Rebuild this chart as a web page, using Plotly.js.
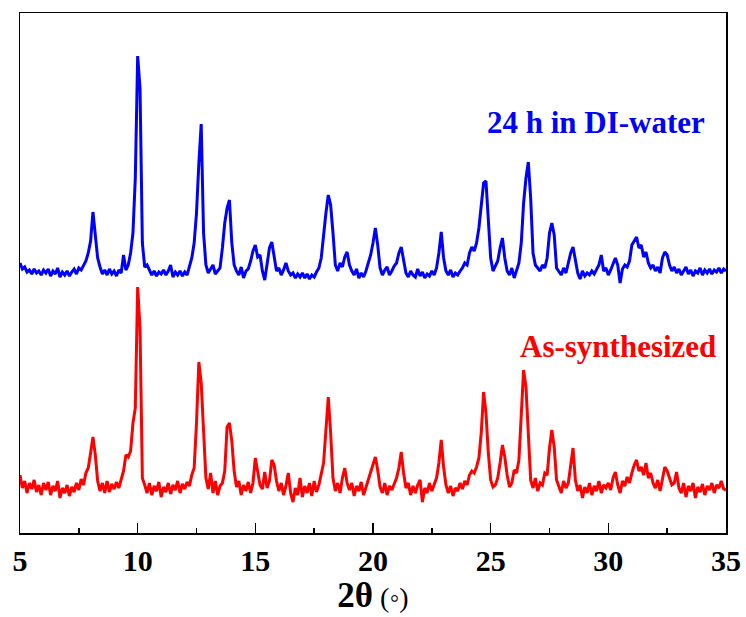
<!DOCTYPE html>
<html>
<head>
<meta charset="utf-8">
<script src="https://cdn.plot.ly/plotly-3.0.1.min.js"></script>
<style>html,body{margin:0;padding:0;background:#fff;}#chart{width:746px;height:617px;}</style>
</head>
<body>
<div id="chart"></div>
<script>
// 2θ sampling: start and step (degrees)
var twoThetaStart = 5.0;
var twoThetaStep = 0.1;

// Sample "24 h in DI-water" (offset intensity, a.u.), 5.0° .. 35.0°
var waterIntensity = [
270,264,266,261,263,259,264,260,262,258,
263,260,264,257,262,259,265,256,261,258,
262,257,261,264,259,265,263,268,272,280,
292,321,300,275,266,259,263,258,264,259,
262,257,263,260,278,263,268,280,300,355,
477,445,290,266,268,262,258,262,257,261,
259,263,258,262,268,256,261,258,262,257,
261,258,268,275,290,320,370,409,300,268,
260,264,268,259,262,265,285,310,325,333,
290,268,262,258,266,255,262,264,272,282,
288,276,278,262,253,270,285,291,275,262,
265,258,263,270,262,258,260,255,259,256,
260,255,259,254,258,256,261,265,275,300,
320,338,328,300,268,262,270,266,276,281,
268,262,258,264,255,260,256,262,270,278,
290,305,288,265,258,263,266,258,262,267,
270,280,286,272,260,256,262,258,256,264,
257,261,255,259,257,262,258,265,280,301,
275,262,258,263,256,260,258,262,265,270,
268,280,286,282,290,305,330,350,352,310,
275,262,268,272,285,295,275,262,258,265,
255,262,270,290,330,355,371,335,280,268,
265,262,268,265,275,300,310,298,265,262,
258,265,260,270,280,286,272,260,254,262,
257,260,258,262,259,264,268,278,262,265,
258,263,270,275,268,250,264,268,266,272,
288,292,296,285,288,276,281,270,265,268,
262,266,260,275,281,278,268,262,266,260,
264,258,262,266,259,263,257,262,260,265,
258,263,260,264,259,263,261,265,260,264,
262
];

// Sample "As-synthesized" (intensity, a.u.), 5.0° .. 35.0°
var asSynIntensity = [
58,45,52,40,50,44,53,41,48,38,
50,43,51,38,47,42,52,35,45,40,
48,37,46,41,50,43,54,48,60,65,
80,96,78,52,42,50,40,52,41,49,
44,51,45,54,62,78,76,82,110,125,
246,205,55,48,40,50,38,47,42,51,
36,46,41,50,39,48,43,52,40,49,
44,51,47,58,65,110,171,150,95,55,
44,60,40,52,38,47,50,62,106,110,
92,62,46,52,38,48,42,51,40,50,
75,62,48,44,61,45,52,73,68,52,
42,50,38,47,60,40,31,45,38,55,
36,47,40,50,37,52,41,48,58,70,
103,136,100,55,42,50,40,55,65,50,
43,50,37,47,42,51,38,46,52,60,
70,76,63,46,40,50,38,47,43,50,
55,65,81,60,45,50,38,47,40,48,
53,31,45,40,50,42,48,55,70,93,
66,48,40,47,37,45,42,50,44,52,
48,58,62,60,66,75,100,141,120,80,
53,46,48,55,70,88,76,58,46,50,
63,60,73,120,163,146,100,53,45,55,
42,50,48,60,58,85,103,86,53,47,
40,52,45,50,70,85,53,42,48,35,
46,40,50,38,47,42,52,40,48,45,
50,43,55,61,48,40,52,47,56,50,
60,68,73,62,66,58,70,55,60,50,
45,53,42,55,66,62,56,48,50,61,
45,40,50,36,47,42,50,35,46,41,
49,38,47,43,50,40,48,45,52,44,
43
];

var seriesNames = ["24 h in DI-water", "As-synthesized"];
var seriesColors = ["#0000FF", "#FF0000"];
var xTickValues = [5, 10, 15, 20, 25, 30, 35];
var xTickLabels = ["5", "10", "15", "20", "25", "30", "35"];

var serif = "Liberation Serif, Times New Roman, serif";

var traces = [
  {x0: twoThetaStart, dx: twoThetaStep, y: waterIntensity, type: "scatter", mode: "lines",
   name: seriesNames[0], line: {color: seriesColors[0], width: 3}},
  {x0: twoThetaStart, dx: twoThetaStep, y: asSynIntensity, type: "scatter", mode: "lines",
   name: seriesNames[1], line: {color: seriesColors[1], width: 3}}
];

var layout = {
  width: 746, height: 617,
  margin: {l: 20, r: 20, t: 13, b: 84, pad: 0},
  paper_bgcolor: "#fff", plot_bgcolor: "#fff",
  showlegend: false,
  xaxis: {
    range: [5, 35], tickmode: "array", tickvals: xTickValues, ticktext: xTickLabels,
    ticks: "inside", ticklen: 10, tickwidth: 1.5, tickcolor: "#000",
    minor: {ticks: "inside", ticklen: 5, tickwidth: 1.5, tickcolor: "#000", dtick: 2.5, tick0: 5},
    showline: true, linecolor: "#000", linewidth: 1.5, mirror: true,
    showgrid: false, zeroline: false,
    tickfont: {family: serif, size: 30, color: "#000", weight: "bold"},
    title: {text: "<b><span style='font-size:35px'>2θ</span></b> (◦)", font: {family: serif, size: 28, color: "#000"}, standoff: 6}
  },
  yaxis: {
    range: [0, 520], showticklabels: false, ticks: "",
    showline: true, linecolor: "#000", linewidth: 1.5, mirror: true,
    showgrid: false, zeroline: false
  },
  annotations: [
    {x: 29.48, y: 411, xref: "x", yref: "y", text: "<b>" + seriesNames[0] + "</b>", showarrow: false,
     font: {family: serif, size: 31, color: seriesColors[0]}, xanchor: "center", yanchor: "middle"},
    {x: 30.41, y: 187, xref: "x", yref: "y", text: "<b>" + seriesNames[1] + "</b>", showarrow: false,
     font: {family: serif, size: 31, color: seriesColors[1]}, xanchor: "center", yanchor: "middle"}
  ]
};

Plotly.newPlot("chart", traces, layout, {displayModeBar: false, staticPlot: true});
</script>
</body>
</html>
